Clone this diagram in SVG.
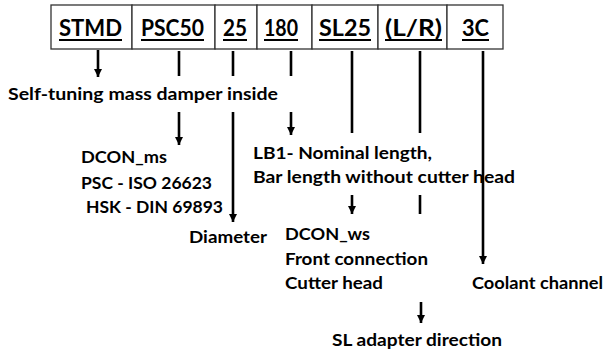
<svg xmlns="http://www.w3.org/2000/svg" width="611" height="353" viewBox="0 0 611 353">
<style>
.hdr{font-family:Lato,"Open Sans","DejaVu Sans",sans-serif;font-weight:bold;font-size:23px;fill:#000}
.lbl{font-family:Lato,"Open Sans","DejaVu Sans",sans-serif;font-weight:bold;font-size:17.5px;fill:#000}
.cell{fill:#fff;stroke:#333;stroke-width:1.3}
.ln{stroke:#000;stroke-width:2.6;fill:none}
.ul{stroke:#000;stroke-width:2}
</style>
<defs>
<marker id="ah" markerUnits="userSpaceOnUse" markerWidth="10" markerHeight="10" viewBox="0 0 10 10" refX="9" refY="5" orient="auto">
<polygon points="1,1 9,5 1,9" fill="#000"/>
</marker>
</defs>
<g id="code">
<rect class="cell" x="51" y="5" width="81" height="44"/>
<rect class="cell" x="132" y="5" width="83" height="44"/>
<rect class="cell" x="215" y="5" width="42" height="44"/>
<rect class="cell" x="257" y="5" width="55" height="44"/>
<rect class="cell" x="312" y="5" width="66" height="44"/>
<rect class="cell" x="378" y="5" width="69" height="44"/>
<rect class="cell" x="447" y="5" width="56" height="44"/>
<text class="hdr" x="59" y="36" textLength="63" lengthAdjust="spacingAndGlyphs">STMD</text>
<text class="hdr" x="141" y="36" textLength="63" lengthAdjust="spacingAndGlyphs">PSC50</text>
<text class="hdr" x="223" y="36" textLength="24" lengthAdjust="spacingAndGlyphs">25</text>
<text class="hdr" x="264" y="36" textLength="34" lengthAdjust="spacingAndGlyphs">180</text>
<text class="hdr" x="319" y="36" textLength="52" lengthAdjust="spacingAndGlyphs">SL25</text>
<text class="hdr" x="385" y="36" textLength="57" lengthAdjust="spacingAndGlyphs">(L/R)</text>
<text class="hdr" x="462" y="36" textLength="27" lengthAdjust="spacingAndGlyphs">3C</text>
<line class="ul" x1="59" y1="40" x2="122" y2="40"/>
<line class="ul" x1="141" y1="40" x2="204" y2="40"/>
<line class="ul" x1="223" y1="40" x2="247" y2="40"/>
<line class="ul" x1="264" y1="40" x2="298" y2="40"/>
<line class="ul" x1="319" y1="40" x2="371" y2="40"/>
<line class="ul" x1="385" y1="40" x2="442" y2="40"/>
<line class="ul" x1="462" y1="40" x2="489" y2="40"/>
</g>
<g id="connectors">
<line class="ln" x1="98" y1="50" x2="98" y2="77" marker-end="url(#ah)"/>
<line class="ln" x1="179" y1="51" x2="179" y2="76"/>
<line class="ln" x1="179" y1="112" x2="179" y2="145" marker-end="url(#ah)"/>
<line class="ln" x1="233" y1="51" x2="233" y2="76"/>
<line class="ln" x1="233" y1="112" x2="233" y2="222" marker-end="url(#ah)"/>
<line class="ln" x1="291" y1="51" x2="291" y2="76"/>
<line class="ln" x1="291" y1="112" x2="291" y2="135" marker-end="url(#ah)"/>
<line class="ln" x1="352" y1="51" x2="352" y2="133"/>
<line class="ln" x1="352" y1="195" x2="352" y2="214" marker-end="url(#ah)"/>
<line class="ln" x1="420" y1="51" x2="420" y2="133"/>
<line class="ln" x1="420" y1="195" x2="420" y2="214"/>
<line class="ln" x1="421" y1="302" x2="421" y2="323" marker-end="url(#ah)"/>
<line class="ln" x1="483" y1="51" x2="483" y2="264" marker-end="url(#ah)"/>
</g>
<g id="n-stmd"><text class="lbl" x="8" y="100" textLength="270" lengthAdjust="spacingAndGlyphs">Self-tuning mass damper inside</text></g>
<g id="n-psc">
<text class="lbl" x="81" y="163" textLength="86" lengthAdjust="spacingAndGlyphs">DCON_ms</text>
<text class="lbl" x="81" y="189" textLength="131" lengthAdjust="spacingAndGlyphs">PSC - ISO 26623</text>
<text class="lbl" x="86" y="213" textLength="137" lengthAdjust="spacingAndGlyphs">HSK - DIN 69893</text>
</g>
<g id="n-dia"><text class="lbl" x="189" y="243" textLength="78" lengthAdjust="spacingAndGlyphs">Diameter</text></g>
<g id="n-len">
<text class="lbl" x="253" y="159" textLength="179" lengthAdjust="spacingAndGlyphs">LB1- Nominal length,</text>
<text class="lbl" x="253" y="183" textLength="262" lengthAdjust="spacingAndGlyphs">Bar length without cutter head</text>
</g>
<g id="n-sl">
<text class="lbl" x="285" y="240" textLength="85" lengthAdjust="spacingAndGlyphs">DCON_ws</text>
<text class="lbl" x="285" y="265" textLength="143" lengthAdjust="spacingAndGlyphs">Front connection</text>
<text class="lbl" x="285" y="289" textLength="98" lengthAdjust="spacingAndGlyphs">Cutter head</text>
</g>
<g id="n-cool"><text class="lbl" x="472" y="289" textLength="131" lengthAdjust="spacingAndGlyphs">Coolant channel</text></g>
<g id="n-dir"><text class="lbl" x="332" y="346" textLength="170" lengthAdjust="spacingAndGlyphs">SL adapter direction</text></g>
</svg>
